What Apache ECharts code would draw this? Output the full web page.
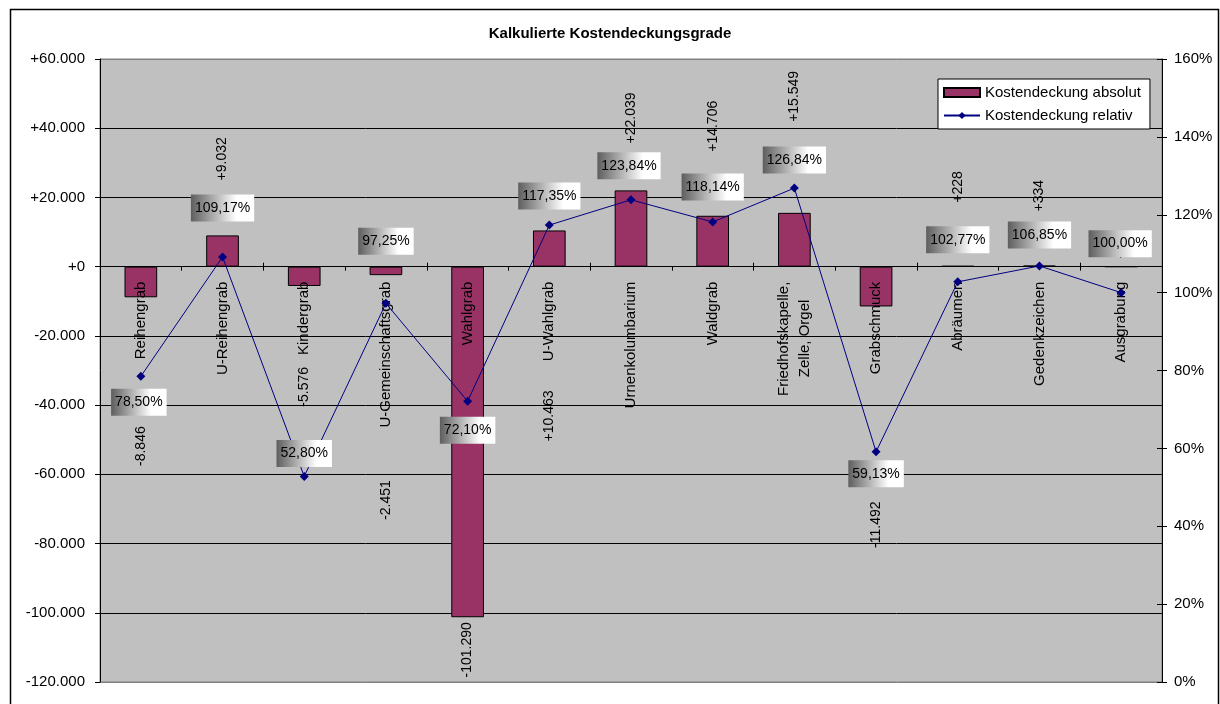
<!DOCTYPE html>
<html>
<head>
<meta charset="utf-8">
<script src="https://cdn.jsdelivr.net/npm/echarts@6/dist/echarts.min.js"></script>
<style>
html,body{margin:0;padding:0;background:#fff;}
#c{width:1220px;height:704px;}
</style>
</head>
<body>
<div id="c"></div>
<script>
// ---- data ----
const categories = ['Reihengrab','U-Reihengrab','Kindergrab','U-Gemeinschaftsgrab','Wahlgrab','U-Wahlgrab','Urnenkolumbarium','Waldgrab','Friedhofskapelle,\nZelle, Orgel','Grabschmuck','Abräumen','Gedenkzeichen','Ausgrabung'];
const absolut = [-8846, 9032, -5576, -2451, -101290, 10463, 22039, 14706, 15549, -11492, 228, 334, 0];
const relativ = [78.50, 109.17, 52.80, 97.25, 72.10, 117.35, 123.84, 118.14, 126.84, 59.13, 102.77, 106.85, 100.00];
const seriesNames = ['Kostendeckung absolut', 'Kostendeckung relativ'];
const titleText = 'Kalkulierte Kostendeckungsgrade';
const leftAxisRange = {min: -120000, max: 60000, interval: 20000};
const rightAxisRange = {min: 0, max: 160, interval: 20};

// ---- label placement (pixels, manual placement as in the original) ----
const barLabelGap = [129, 55, 81, 205, 5, -211, 47, 64, 91, 195, 63, 54, 8];
const pctLabelShift = [[-2,26],[0,-49],[0,-23],[0,-62],[0,29],[0,-29],[-2,-34],[0,-35],[0,-28],[0,22],[0,-42],[0,-31],[-1,-49]];

const FONT = '"Liberation Sans", Arial, sans-serif';

function de(v) {
  return Math.abs(v).toString().replace(/\B(?=(\d{3})+(?!\d))/g, '.');
}
function signed(v) {
  if (v > 0) return '+' + de(v);
  if (v < 0) return '-' + de(v);
  return '-';
}
function axisFmt(v) {
  if (v > 0) return '+' + de(v);
  if (v < 0) return '-' + de(v);
  return '+0';
}
function pctFmt(v) {
  return v.toFixed(2).replace('.', ',') + '%';
}

const chart = echarts.init(document.getElementById('c'), null, {renderer: 'canvas'});

const gradBg = new echarts.graphic.LinearGradient(0, 0, 1, 0, [
  {offset: 0, color: '#5e5e5e'},
  {offset: 0.72, color: '#ffffff'},
  {offset: 1, color: '#ffffff'}
]);

const splitColors = [];
{
  const n = Math.round((leftAxisRange.max - leftAxisRange.min) / leftAxisRange.interval) + 1;
  for (let i = 0; i < n; i++) splitColors.push(i === 0 || i === n - 1 ? '#808080' : '#000000');
}

const option = {
  animation: false,
  backgroundColor: '#ffffff',
  textStyle: {fontFamily: FONT},
  title: {
    text: titleText,
    left: 'center',
    top: 21,
    textStyle: {fontSize: 15, fontWeight: 'bold', color: '#000', fontFamily: FONT}
  },
  graphic: [{
    type: 'rect',
    left: 8, top: 7,
    shape: {width: 1208, height: 720},
    style: {fill: 'none', stroke: '#000', lineWidth: 1.5},
    silent: true,
    z: -1
  }],
  legend: {
    orient: 'vertical',
    left: 938,
    top: 79,
    backgroundColor: '#ffffff',
    borderColor: '#000',
    borderWidth: 1,
    padding: [6, 9, 6, 5],
    itemGap: 8,
    itemWidth: 36,
    itemHeight: 9,
    textStyle: {fontSize: 15, color: '#000', fontFamily: FONT},
    data: [{name: seriesNames[0], icon: 'rect'}, {name: seriesNames[1]}],
    z: 10
  },
  grid: {
    left: 100, top: 59, width: 1062, height: 623,
    show: true,
    backgroundColor: '#c0c0c0',
    borderColor: '#808080',
    borderWidth: 1,
    containLabel: false,
    outerBoundsMode: 'none'
  },
  xAxis: [{
    type: 'category',
    data: categories,
    position: 'bottom',
    offset: 0,
    z: 3,
    axisLine: {onZero: false, lineStyle: {color: '#000', width: 1}},
    axisTick: {show: true, length: 4, lineStyle: {color: '#000'}},
    axisLabel: {
      rotate: 90,
      interval: 0,
      margin: 15,
      fontSize: 15,
      lineHeight: 21,
      color: '#000',
      fontFamily: FONT,
      formatter: function (v) {
        const parts = v.split('\n');
        if (parts.length > 1) {
          return parts[0] + '\n{b|' + parts[1] + '}';
        }
        return v;
      },
      rich: {b: {fontSize: 15, color: '#000', fontFamily: FONT, lineHeight: 21, padding: [0, 18, 0, 0]}}
    },
    splitLine: {show: false}
  }, {
    type: 'category',
    data: categories,
    position: 'bottom',
    offset: 0,
    z: 3,
    axisLine: {show: false, onZero: false},
    axisTick: {show: true, inside: true, length: 4, lineStyle: {color: '#000'}},
    axisLabel: {show: false},
    splitLine: {show: false}
  }],
  yAxis: [{
    type: 'value',
    position: 'left',
    min: leftAxisRange.min, max: leftAxisRange.max, interval: leftAxisRange.interval,
    axisLine: {show: true, onZero: false, lineStyle: {color: '#000', width: 1}},
    axisTick: {show: true, length: 5, lineStyle: {color: '#000'}},
    axisLabel: {formatter: axisFmt, fontSize: 15, color: '#000', margin: 15, fontFamily: FONT},
    splitLine: {show: true, lineStyle: {color: splitColors, width: 1}}
  }, {
    type: 'value',
    position: 'right',
    min: rightAxisRange.min, max: rightAxisRange.max, interval: rightAxisRange.interval,
    axisLine: {show: true, onZero: false, lineStyle: {color: '#000', width: 1}},
    axisTick: {show: true, length: 5, lineStyle: {color: '#000'}},
    axisLabel: {formatter: v => v + '%', fontSize: 15, color: '#000', margin: 12, fontFamily: FONT},
    splitLine: {show: false}
  }, {
    type: 'value',
    position: 'right',
    min: rightAxisRange.min, max: rightAxisRange.max, interval: rightAxisRange.interval,
    axisLine: {show: false, onZero: false},
    axisTick: {show: true, inside: true, length: 5, lineStyle: {color: '#000'}},
    axisLabel: {show: false},
    splitLine: {show: false}
  }],
  series: [{
    name: seriesNames[0],
    type: 'bar',
    xAxisIndex: 0,
    yAxisIndex: 0,
    barWidth: '40%',
    data: absolut,
    itemStyle: {color: '#993366', borderColor: '#000', borderWidth: 1},
    label: {
      show: true,
      position: 'top',
      rotate: 90,
      fontSize: 14,
      color: '#000',
      fontFamily: FONT,
      formatter: p => signed(p.value)
    },
    labelLayout: function (p) {
      const i = p.dataIndex;
      const r = p.rect;
      const cx = r.x + r.width / 2;
      const v = absolut[i];
      if (v >= 0) {
        return {x: cx, y: r.y - barLabelGap[i], align: 'left', verticalAlign: 'middle', rotate: 90};
      }
      return {x: cx, y: r.y + r.height + barLabelGap[i], align: 'right', verticalAlign: 'middle', rotate: 90};
    },
    z: 2
  }, {
    name: seriesNames[1],
    type: 'line',
    xAxisIndex: 0,
    yAxisIndex: 1,
    data: relativ,
    symbol: 'diamond',
    symbolSize: 9,
    lineStyle: {color: '#000080', width: 1},
    itemStyle: {color: '#000080'},
    label: {
      show: true,
      position: 'top',
      fontSize: 14,
      color: '#000',
      fontFamily: FONT,
      backgroundColor: gradBg,
      padding: [7, 4, 6, 4],
      formatter: p => pctFmt(p.value)
    },
    labelLayout: function (p) {
      const i = p.dataIndex;
      const r = p.rect;
      return {
        x: r.x + r.width / 2 + pctLabelShift[i][0],
        y: r.y + r.height / 2 + pctLabelShift[i][1],
        align: 'center',
        verticalAlign: 'middle'
      };
    },
    z: 4
  }]
};

chart.setOption(option);

// Place the category axis on the zero line of the left value axis
// (position derived from the axis scale, not typed).
const zeroY = chart.convertToPixel({yAxisIndex: 0}, 0);
const bottomY = chart.convertToPixel({yAxisIndex: 0}, leftAxisRange.min);
const off = -(bottomY - zeroY);
chart.setOption({xAxis: [{offset: off}, {offset: off}]});
</script>
</body>
</html>
